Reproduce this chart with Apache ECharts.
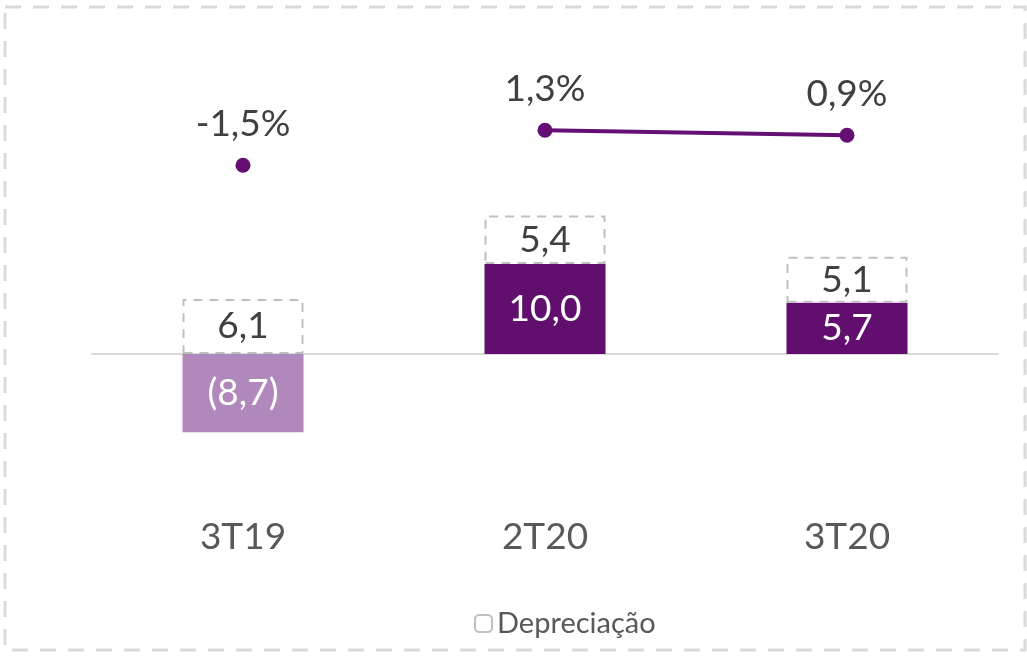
<!DOCTYPE html>
<html>
<head>
<meta charset="utf-8">
<script src="https://cdn.jsdelivr.net/npm/echarts@6/dist/echarts.min.js"></script>
<style>
  html, body { margin: 0; padding: 0; background: #fff; }
  #chart { width: 1027px; height: 658px; }
</style>
</head>
<body>
<div id="chart"></div>
<script>
const categories = ['3T19', '2T20', '3T20'];
const resultado = [-8.7, 10.0, 5.7];
const depreciacao = [6.1, 5.4, 5.1];
const margem = [-1.5, 1.3, 0.9];

const fmt = v => v.toFixed(1).replace('.', ',');
const FONT = 'Lato';
const FS = 37;

const chart = echarts.init(document.getElementById('chart'));

const pctLabel = {
    show: true, position: 'top', distance: 15,
    color: '#404040', fontSize: FS, fontFamily: FONT,
    formatter: p => fmt(p.value) + '%'
};

const option = {
    backgroundColor: '#fff',
    textStyle: { fontFamily: FONT },
    graphic: [{
        type: 'rect',
        shape: { x: 5, y: 7, width: 1020, height: 643 },
        style: { fill: 'none', stroke: '#d9d9d9', lineWidth: 3, lineDash: [16, 12] },
        silent: true
    }],
    grid: { left: 92, width: 906, top: 84, height: 405, outerBoundsMode: 'none', containLabel: false },
    legend: {
        data: ['Depreciação'],
        bottom: 15,
        left: 469,
        itemWidth: 17,
        itemHeight: 17,
        itemGap: 6,
        textStyle: { fontSize: 29, color: '#595959', fontFamily: FONT }
    },
    xAxis: {
        type: 'category',
        data: categories,
        axisLine: { onZero: true, lineStyle: { color: '#d9d9d9', width: 2 } },
        axisTick: { show: false },
        axisLabel: { margin: 30, color: '#595959', fontSize: FS, fontFamily: FONT }
    },
    yAxis: [
        { type: 'value', min: -15, max: 30, show: false, splitLine: { show: false } },
        { type: 'value', min: -27.4, max: 5, show: false, splitLine: { show: false } }
    ],
    series: [
        {
            name: 'Resultado',
            type: 'bar',
            stack: 'a',
            barWidth: 121,
            data: resultado.map(v => ({
                value: v,
                itemStyle: { color: v < 0 ? '#b088bb' : '#620e6f' }
            })),
            label: {
                show: true,
                position: 'inside',
                color: '#fff',
                fontSize: FS,
                fontFamily: FONT,
                formatter: p => p.value < 0 ? '(' + fmt(-p.value) + ')' : fmt(p.value)
            }
        },
        {
            name: 'Depreciação',
            type: 'bar',
            stack: 'a',
            barWidth: 121,
            data: depreciacao,
            itemStyle: {
                color: '#fff',
                borderColor: '#bfbfbf',
                borderWidth: 2,
                borderType: [9, 7]
            },
            label: {
                show: true,
                position: 'inside',
                color: '#404040',
                fontSize: FS,
                fontFamily: FONT,
                formatter: p => fmt(p.value)
            }
        },
        {
            name: 'Margem',
            type: 'line',
            yAxisIndex: 1,
            data: [margem[0], null, null],
            symbol: 'circle',
            symbolSize: 15,
            itemStyle: { color: '#650f74' },
            lineStyle: { width: 4, color: '#650f74' },
            label: pctLabel
        },
        {
            name: 'Margem2',
            type: 'line',
            yAxisIndex: 1,
            data: [null, margem[1], margem[2]],
            symbol: 'circle',
            symbolSize: 15,
            itemStyle: { color: '#650f74' },
            lineStyle: { width: 4, color: '#650f74' },
            label: pctLabel
        }
    ]
};

chart.setOption(option);
</script>
</body>
</html>
